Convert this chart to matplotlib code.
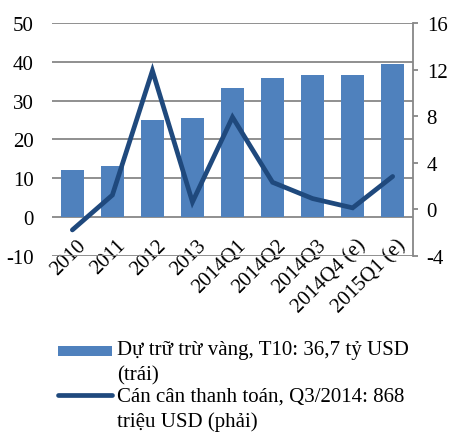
import matplotlib
matplotlib.use("Agg")
import matplotlib.pyplot as plt
import matplotlib.transforms as mtransforms
from matplotlib.legend_handler import HandlerPatch
from matplotlib.patches import Rectangle
import numpy as np

plt.rcParams['font.family'] = ['Liberation Serif', 'DejaVu Serif']
plt.rcParams['axes.unicode_minus'] = False

categories = ["2010", "2011", "2012", "2013", "2014Q1", "2014Q2", "2014Q3",
              "2014Q4 (e)", "2015Q1 (e)"]
reserves = [12.0, 13.1, 25.0, 25.4, 33.2, 35.7, 36.7, 36.7, 39.4]
balance = [-1.8, 1.2, 11.9, 0.6, 7.9, 2.3, 0.9, 0.1, 2.8]
left_ticks = [-10, 0, 10, 20, 30, 40, 50]
right_ticks = [-4, 0, 4, 8, 12, 16]

bar_label = "Dự trữ trừ vàng, T10: 36,7 tỷ USD\n(trái)"
line_label = "Cán cân thanh toán, Q3/2014: 868\ntriệu USD (phải)"

bar_color = "#4F81BD"
line_color = "#1F497D"
grid_color = "#878787"
fs = 15

fig = plt.figure(figsize=(4.53, 4.35), dpi=100)
ax = fig.add_axes([0.1155, 0.4103, 0.7955, 0.5345])
x = np.arange(len(categories))

ax.set_ylim(-10, 50)
ax.set_xlim(-0.5, len(categories) - 0.5)
ax.set_yticks(left_ticks)
ax.yaxis.grid(True, color=grid_color, linewidth=1.3)
ax.set_axisbelow(True)
bars = ax.bar(x, reserves, width=0.575, color=bar_color, zorder=2, label=bar_label)
for s in ["top", "bottom", "left", "right"]:
    ax.spines[s].set_visible(False)
ax.tick_params(axis='y', length=0, pad=13.5, labelsize=fs)
ax.set_xticks(x)
ax.set_xticklabels(categories, rotation=45, ha='right', rotation_mode='anchor', fontsize=fs)
ax.tick_params(axis='x', length=0, pad=-14.5)
offset = mtransforms.ScaledTranslation(4/100, 0, fig.dpi_scale_trans)
for lab in ax.get_xticklabels():
    lab.set_transform(lab.get_transform() + offset)

ax2 = ax.twinx()
ax2.set_ylim(-4, 16)
ax2.set_yticks(right_ticks)
line, = ax2.plot(x, balance, color=line_color, linewidth=3.4, solid_capstyle='round',
                 solid_joinstyle='miter', zorder=3, label=line_label)
for s in ["top", "bottom", "left"]:
    ax2.spines[s].set_visible(False)
ax2.spines["right"].set_color(grid_color)
ax2.spines["right"].set_linewidth(1.3)
ax2.tick_params(axis='y', direction='out', length=3.6, width=1.3, color=grid_color,
                pad=6.5, labelsize=fs)


def small_patch(legend, orig_handle, xdescent, ydescent, width, height, fontsize):
    h = 0.49 * fontsize
    return Rectangle((-xdescent, -ydescent + (height - h) / 2), width, h)


leg = fig.legend(handles=[bars[0], line], labels=[bar_label, line_label],
                 loc='upper left', bbox_to_anchor=(0.128, 0.215), frameon=False,
                 fontsize=fs, borderpad=0, borderaxespad=0, handlelength=2.6,
                 handleheight=1.15, handletextpad=0.25, labelspacing=0.1,
                 handler_map={Rectangle: HandlerPatch(patch_func=small_patch)})
for col in leg._legend_handle_box.get_children():
    for item in col.get_children():
        item.align = "top"
for t in leg.get_texts():
    t.set_linespacing(1.38)
for lh in leg.legend_handles:
    if hasattr(lh, "set_solid_capstyle"):
        lh.set_solid_capstyle('round')

fig.savefig("out.png", dpi=100)
